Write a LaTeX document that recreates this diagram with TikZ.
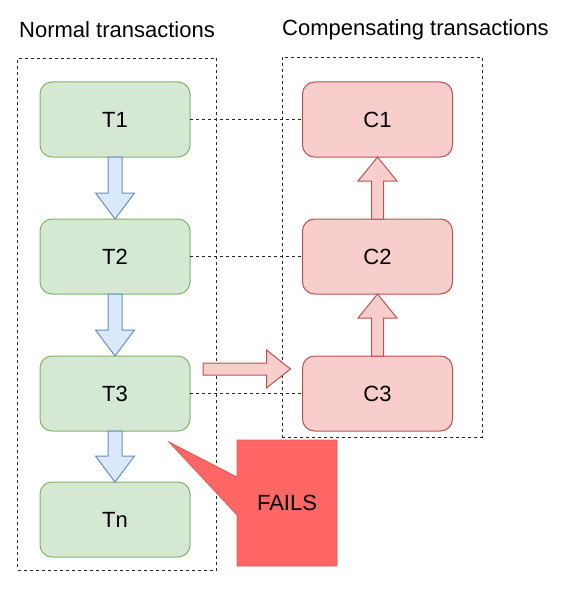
\documentclass[tikz,border=0pt]{standalone}
\usepackage{fontspec}
\setmainfont{Liberation Sans}
\usetikzlibrary{calc}
\definecolor{gfill}{HTML}{D5E8D4}
\definecolor{gline}{HTML}{82B366}
\definecolor{rfill}{HTML}{F8CECC}
\definecolor{rline}{HTML}{B85450}
\definecolor{bfill}{HTML}{DAE8FC}
\definecolor{bline}{HTML}{6C8EBF}
\definecolor{ffill}{HTML}{FF6666}
\definecolor{fline}{HTML}{E05A5A}
\tikzset{
  txt/.style={font=\fontsize{22}{26}\selectfont, text=black},
  container/.style={draw=black!85, line width=0.9pt, dash pattern=on 3pt off 3pt, inner sep=0pt, outer sep=0pt},
  tbox/.style={txt, draw=gline, fill=gfill, line width=1pt, rounded corners=12pt, minimum width=150pt, minimum height=75pt, inner sep=0pt, outer sep=0pt},
  cbox/.style={txt, draw=rline, fill=rfill, line width=1pt, rounded corners=12pt, minimum width=150pt, minimum height=75pt, inner sep=0pt, outer sep=0pt},
  link/.style={draw=black!85, line width=0.9pt, dash pattern=on 3pt off 3pt},
  bluearrow/.style={draw=bline, fill=bfill, line width=1pt, line join=miter},
  redarrow/.style={draw=rline, fill=rfill, line width=1pt, line join=miter},
  callout/.style={draw=fline, fill=ffill, line width=0.8pt, line join=miter},
}
\newcommand{\downblock}[2]{%
  \path[bluearrow] ($(#1.south)+(-7,0)$) -- ($(#2.north)+(-7,-26)$) -- ($(#2.north)+(-19.5,-26)$) -- (#2.north) -- ($(#2.north)+(19.5,-26)$) -- ($(#2.north)+(7,-26)$) -- ($(#1.south)+(7,0)$) -- cycle;}
\newcommand{\upblock}[2]{%
  \path[redarrow] ($(#1.north)+(-6,0)$) -- ($(#2.south)+(-6,24)$) -- ($(#2.south)+(-19.5,24)$) -- (#2.south) -- ($(#2.south)+(19.5,24)$) -- ($(#2.south)+(6,24)$) -- ($(#1.north)+(6,0)$) -- cycle;}
\begin{document}
\begin{tikzpicture}[x=1pt,y=-1pt]
\useasboundingbox (0,0) rectangle (569,599);
% titles
\node[txt] (tnormal) at (117,30) {Normal transactions};
\node[txt] (tcomp) at (415.5,30) {Compensating transactions};
% containers
\node[container, minimum width=199pt, minimum height=512pt] (left) at (117,314) {};
\node[container, minimum width=200pt, minimum height=380pt] (right) at (382,247) {};
% boxes
\node[tbox] (T1) at (115,119.5) {T1};
\node[tbox] (T2) at (115,256.5) {T2};
\node[tbox] (T3) at (115,393.5) {T3};
\node[tbox] (Tn) at (115,519.5) {Tn};
\node[cbox] (C1) at (377.5,119.5) {C1};
\node[cbox] (C2) at (377.5,256.5) {C2};
\node[cbox] (C3) at (377.5,393.5) {C3};
% dashed links
\draw[link] (T1.east) -- (C1.west);
\draw[link] (T2.east) -- (C2.west);
\draw[link] (T3.east) -- (C3.west);
% block arrows
\downblock{T1}{T2}
\downblock{T2}{T3}
\downblock{T3}{Tn}
\upblock{C2}{C1}
\upblock{C3}{C2}
\coordinate (hs) at ($(T3.east)+(13,-24.5)$);
\coordinate (ht) at ($(C3.west)+(-12,-24.5)$);
\path[redarrow] ($(hs)+(0,-6)$) -- ($(ht)+(-24,-6)$) -- ($(ht)+(-24,-19)$) -- (ht) -- ($(ht)+(-24,19)$) -- ($(ht)+(-24,6)$) -- ($(hs)+(0,6)$) -- cycle;
% callout
\coordinate (ftip) at (169,442);
\path[callout] (237,440) -- (337,440) -- (337,566) -- (237,566) -- (237,515) -- (ftip) -- (237,477) -- cycle;
\node[txt, minimum width=100pt, minimum height=126pt, inner sep=0pt] (fails) at (287,503) {FAILS};
\end{tikzpicture}
\end{document}
